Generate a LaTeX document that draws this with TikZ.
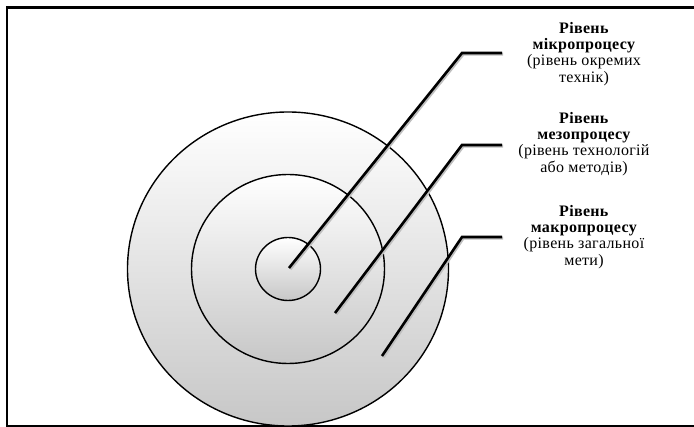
\documentclass[tikz,border=0pt]{standalone}
\usepackage{fontspec}
\setmainfont{Liberation Serif}
\newfontfamily\lblfont{Liberation Serif}[LetterSpace=2]
\usetikzlibrary{shapes.geometric, positioning, calc}

\begin{document}
\begin{tikzpicture}[x=1pt, y=-1pt,
    every node/.style={font=\lblfont\fontsize{16}{16.3}\selectfont},
    ring/.style={draw, ellipse, line width=1.4pt, inner sep=0pt, top color=white, bottom color=black!22},
    leader/.style={line width=2.6pt, line join=miter},
    shade/.style={line width=3pt, draw=black!25},
    levelbox/.style={align=center, inner sep=0pt},
    frame/.style={line width=2.6pt}
]
    \useasboundingbox (0,0) rectangle (694,427);

    % Frame (open on the right)
    \draw[frame] (694,7.5) -- (7,7.5) -- (7,426) -- (694,426);

    % Rings
    \node (macro) [ring, minimum width=321pt, minimum height=314pt] at (288,269) {};
    \node (meso) [ring, minimum width=193pt, minimum height=189pt] at (288,269) {};
    \node (micro) [ring, minimum width=65pt, minimum height=63pt] at (288,269) {};

    % Leader points
    \coordinate (p1) at (289,268);
    \coordinate (k1) at (462,53);
    \coordinate (e1) at (502,53);
    \coordinate (p2) at (335,313);
    \coordinate (k2) at (462,145);
    \coordinate (e2) at (502,145);
    \coordinate (p3) at (382,356);
    \coordinate (k3) at (462,237);
    \coordinate (e3) at (502,237);

    % Leader shadows
    \foreach \i in {1,2,3}
        \draw[shade, transform canvas={shift={(1.2pt,-1.2pt)}}] (p\i) -- (k\i) -- (e\i);

    % Leaders
    \draw[leader] (p1) -- (k1) -- (e1);
    \draw[leader] (p2) -- (k2) -- (e2);
    \draw[leader] (p3) -- (k3) -- (e3);

    % Labels
    \node (microlbl) [levelbox] at (584,54) {\textbf{Рівень}\\\textbf{мікропроцесу}\\(рівень окремих\\технік)};
    \node (mesolbl) [levelbox] at (584,144) {\textbf{Рівень}\\\textbf{мезопроцесу}\\(рівень технологій\\або методів)};
    \node (macrolbl) [levelbox] at (584,237) {\textbf{Рівень}\\\textbf{макропроцесу}\\(рівень загальної\\мети)};

\end{tikzpicture}
\end{document}
